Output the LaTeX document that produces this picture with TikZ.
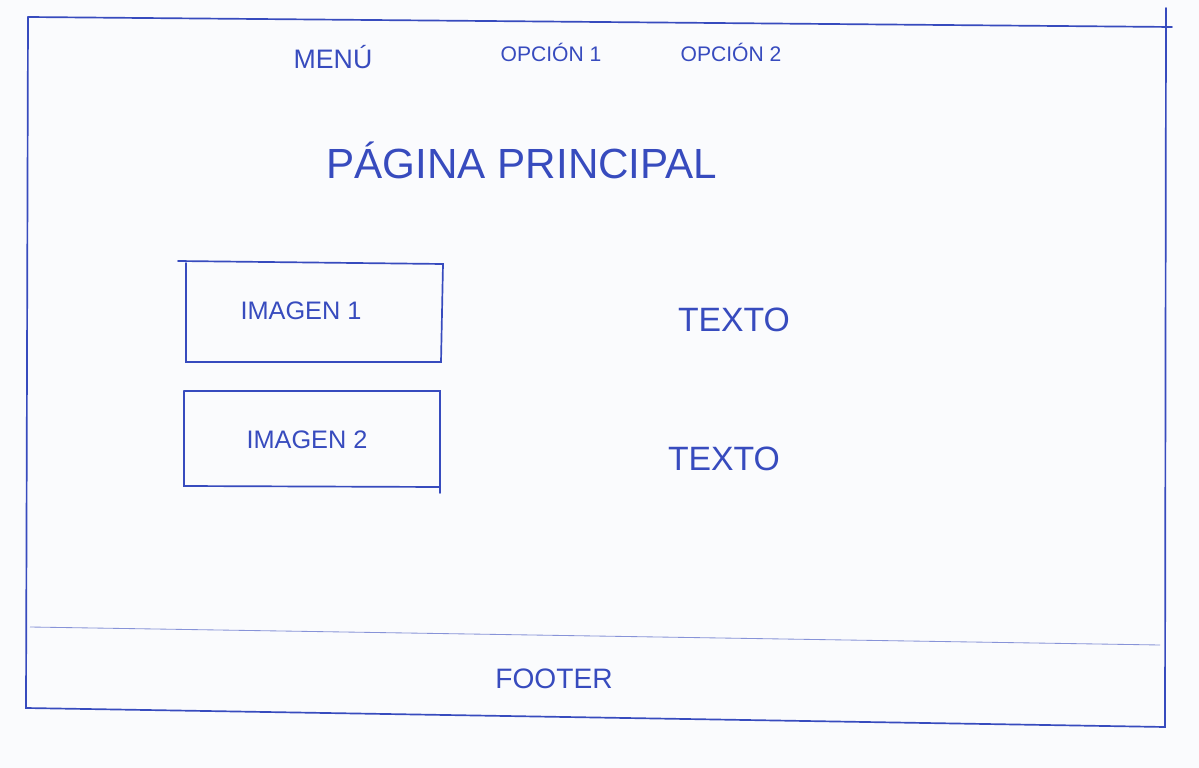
\documentclass[tikz,border=0pt]{standalone}
\usepackage{fontspec}
\setmainfont{Liberation Sans}
\definecolor{ink}{RGB}{55,75,190}
\definecolor{paper}{RGB}{250,251,253}
\tikzset{
  x=0.025cm, y=-0.025cm,
  pen/.style={draw=ink, line width=1.2pt, line cap=round},
  thinpen/.style={draw=ink!60, line width=0.6pt},
  hand/.style={text=ink, inner sep=0pt, font=#1},
  box/.style={pen},
}
\begin{document}
\begin{tikzpicture}
\fill[paper] (0,0) rectangle (1199,768);
\useasboundingbox (0,0) rectangle (1199,768);
% outer frame
\coordinate (tl) at (28,17);
\coordinate (tr) at (1165,27);
\coordinate (br) at (1165,727);
\coordinate (bl) at (26,708);
\coordinate (trx) at (1172,27);
\coordinate (trt) at (1166,8);
\draw[pen] (tl) -- (trx);
\draw[pen] (trt) -- (br) -- (bl) -- (tl);
% footer separator
\coordinate (fl) at (30,627);
\coordinate (fr) at (1160,645);
\draw[thinpen] (fl) -- (fr);
% image boxes
\draw[box] (178,261) -- (443,264) -- (441,362) -- (186,362) -- (186,263);
\draw[box] (184,391) -- (440,391) -- (440,493);
\draw[box] (440,487) -- (184,486) -- (184,391);
% texts
\node[hand={\fontsize{19}{19}\selectfont}] (menu) at (333,57) {MENÚ};
\node[hand={\fontsize{15}{15}\selectfont}] (op1) at (551,52) {OPCIÓN 1};
\node[hand={\fontsize{15}{15}\selectfont}] (op2) at (731,52) {OPCIÓN 2};
\node[hand={\fontsize{30}{30}\selectfont}] (title) at (522,160) {PÁGINA PRINCIPAL};
\node[hand={\fontsize{18}{18}\selectfont}] (img1) at (301,311) {IMAGEN 1};
\node[hand={\fontsize{18}{18}\selectfont}] (img2) at (307,440) {IMAGEN 2};
\node[hand={\fontsize{24}{24}\selectfont}] (txt1) at (734,320) {TEXTO};
\node[hand={\fontsize{24}{24}\selectfont}] (txt2) at (724,459) {TEXTO};
\node[hand={\fontsize{20}{20}\selectfont}] (footer) at (554,679) {FOOTER};
\end{tikzpicture}
\end{document}
